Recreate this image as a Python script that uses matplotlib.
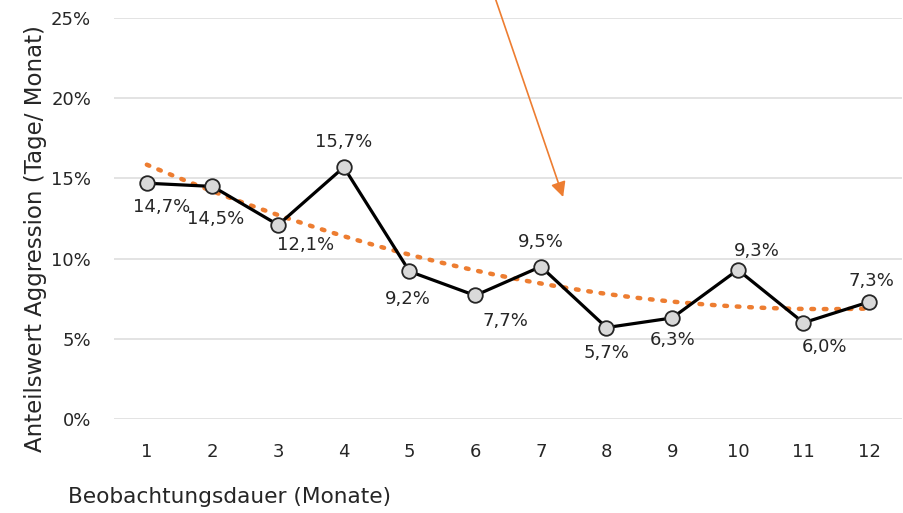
import numpy as np
import matplotlib
matplotlib.use("Agg")
import matplotlib.pyplot as plt

months = [1, 2, 3, 4, 5, 6, 7, 8, 9, 10, 11, 12]
values = [14.7, 14.5, 12.1, 15.7, 9.2, 7.7, 9.5, 5.7, 6.3, 9.3, 6.0, 7.3]
yticks = [0, 5, 10, 15, 20, 25]
# label offsets in pixels (dx right, dy up)
label_dx = [15, 3, 27, 0, -2, 30, 0, 0, 0, 19, 21, 2]
label_dy = [-24, -33, -20, 25, -28, -26, 25, -25, -22, 19, -24, 21]

plt.rcParams['font.family'] = ['DejaVu Sans']
TXT = '#262626'
ORANGE = '#ED7D31'

fig = plt.figure(figsize=(9.04, 5.13), dpi=100)
ax = fig.add_axes([114/904, 94/513, 788/904, 401/513])
ax.set_xlim(0.5, 12.5)
ax.set_ylim(0, 25)

for s in ax.spines.values():
    s.set_visible(False)
ax.set_yticks(yticks)
ax.set_yticklabels([f"{t}%" for t in yticks])
ax.set_xticks(months)
ax.set_xticklabels([str(m) for m in months])
ax.tick_params(length=0, labelsize=13, colors=TXT)
ax.tick_params(axis='y', pad=16.5)
ax.tick_params(axis='x', pad=17)
ax.grid(axis='y', color='#E3E3E3', linewidth=1.4)
ax.set_axisbelow(True)

# polynomial (order 2) trendline from data
coef = np.polyfit(months, values, 2)
xs = np.linspace(1, 12, 200)
ax.plot(xs, np.polyval(coef, xs), color=ORANGE, linestyle=(0, (0.6, 2.2)),
        linewidth=3.2, dash_capstyle='round', zorder=2)

ax.plot(months, values, color='black', linewidth=2.3, marker='o', markersize=10.5,
        markerfacecolor='#D9D9D9', markeredgecolor='#262626', markeredgewidth=1.3, zorder=3)

for m, v, dx, dy in zip(months, values, label_dx, label_dy):
    ax.annotate(f"{v:.1f}%".replace('.', ','), (m, v), xytext=(dx*0.72, dy*0.72),
                textcoords='offset points', ha='center', va='center',
                fontsize=13, color=TXT, zorder=4)

# arrow
ax.annotate('', xy=(7.34, 13.84), xytext=(6.30, 26.3), xycoords='data',
            arrowprops=dict(arrowstyle='-|>,head_length=0.9,head_width=0.45',
                            color=ORANGE, linewidth=1.2, shrinkA=0, shrinkB=0),
            annotation_clip=False)

fig.text(36/904, 1 - 239/513, 'Anteilswert Aggression (Tage/ Monat)', rotation=90,
         ha='center', va='center', fontsize=16.5, color=TXT)
fig.text(68/904, 1 - 497/513, 'Beobachtungsdauer (Monate)', ha='left', va='center',
         fontsize=15.6, color=TXT)

fig.savefig('out.png', dpi=100)
